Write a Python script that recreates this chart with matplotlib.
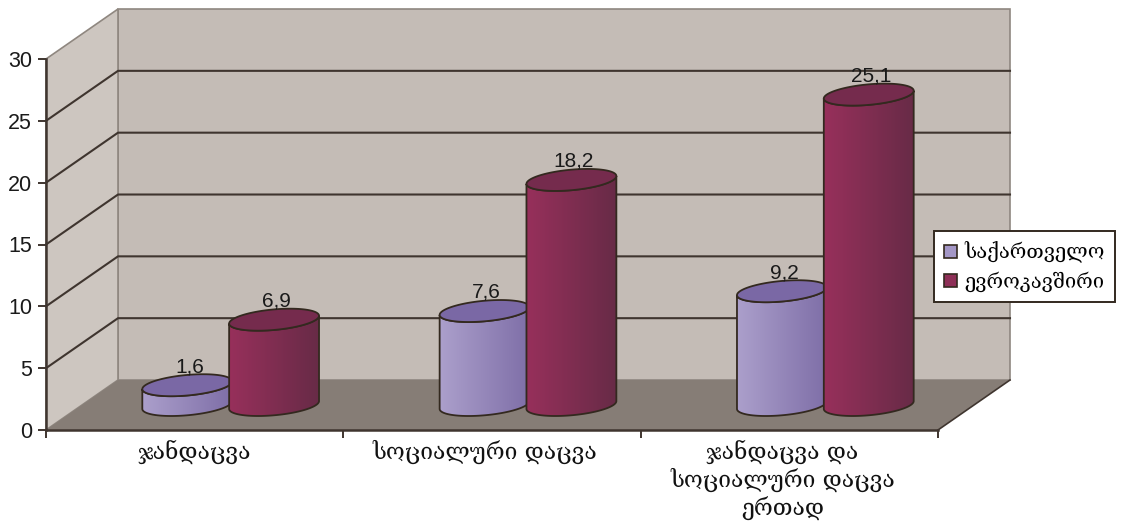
import numpy as np
import matplotlib
matplotlib.use("Agg")
import matplotlib.pyplot as plt
from matplotlib.colors import LinearSegmentedColormap
from matplotlib.patches import Patch, Polygon
from matplotlib.transforms import ScaledTranslation

categories = ["ჯანდაცვა", "სოციალური დაცვა", "ჯანდაცვა და\nსოციალური დაცვა\nერთად"]
georgia = [1.6, 7.6, 9.2]
eu = [6.9, 18.2, 25.1]
series_names = ["საქართველო", "ევროკავშირი"]
y_ticks = [0, 5, 10, 15, 20, 25, 30]

W, H = 1123, 521
# front plane of the box in pixels
X0, X1, Y0, Y30 = 46, 938, 430, 59
DEPTH_X = 72 / 297.33
DEPTH_Y = 50 / 12.37

DARK = "#33291f"
LINE = "#3f352f"
EDGE = "#8f8780"
GEO_FONT = ["DejaVu Serif", "DejaVu Sans"]
NUM_FONT = "Liberation Sans"


def draw_cylinder(ax, cx, value, light, dark, top_color, z):
    # ellipse half axes, data units
    a = 42 / 297.33
    d = 16 / 297.33
    e = 11 / 12.37
    base_y = DEPTH_Y / 2
    t0 = np.arctan2(d, a)
    t = np.linspace(t0 + np.pi, t0 + 2 * np.pi, 60)
    xs = cx + a * np.cos(t) + d * np.sin(t)
    low = e * np.sin(t)
    outline = np.vstack([
        np.column_stack([xs, base_y + low]),
        np.column_stack([xs[::-1], base_y + value + low[::-1]]),
    ])
    side = Polygon(outline, closed=True, facecolor="none", edgecolor=DARK,
                   lw=1.3, zorder=z + 0.2, clip_on=False)
    ax.add_patch(side)
    cmap = LinearSegmentedColormap.from_list("side", [light, dark])
    grad = ax.imshow(np.linspace(0, 1, 64).reshape(1, -1), cmap=cmap, aspect="auto",
                     extent=(xs.min(), xs.max(), base_y - e, base_y + value + e),
                     zorder=z + 0.1)
    grad.set_clip_path(side)

    tt = np.linspace(0, 2 * np.pi, 120)
    top = np.column_stack([cx + a * np.cos(tt) + d * np.sin(tt),
                           base_y + value + e * np.sin(tt)])
    ax.add_patch(Polygon(top, closed=True, facecolor=top_color, edgecolor=DARK,
                         lw=1.3, zorder=z + 0.3, clip_on=False))
    ax.text(cx + 0.007, base_y + value + e - 0.15, f"{value}".replace(".", ","),
            ha="center", va="bottom", fontsize=15, family=NUM_FONT,
            color="#1a1a1a", zorder=z + 0.4)


def main():
    fig = plt.figure(figsize=(W / 100, H / 100), dpi=100, facecolor="white")
    ax = fig.add_axes([X0 / W, 1 - Y0 / H, (X1 - X0) / W, (Y0 - Y30) / H])
    ax.patch.set_visible(False)
    n = len(categories)

    # walls and floor
    ax.add_patch(Polygon([(DEPTH_X, DEPTH_Y), (n + DEPTH_X, DEPTH_Y),
                          (n + DEPTH_X, 30 + DEPTH_Y), (DEPTH_X, 30 + DEPTH_Y)],
                         facecolor="#c4bcb6", edgecolor=EDGE, lw=1.2, clip_on=False, zorder=1))
    ax.add_patch(Polygon([(0, 0), (DEPTH_X, DEPTH_Y), (DEPTH_X, 30 + DEPTH_Y), (0, 30)],
                         facecolor="#cdc6c0", edgecolor=EDGE, lw=1.2, clip_on=False, zorder=1))
    ax.add_patch(Polygon([(0, 0), (n, 0), (n + DEPTH_X, DEPTH_Y), (DEPTH_X, DEPTH_Y)],
                         facecolor="#867d76", edgecolor="none", clip_on=False, zorder=1))
    ax.plot([n, n + DEPTH_X], [0, DEPTH_Y], color=LINE, lw=1.2, clip_on=False, zorder=2)

    for v in y_ticks[1:-1]:
        ax.plot([0, DEPTH_X, n + DEPTH_X], [v, v + DEPTH_Y, v + DEPTH_Y],
                color=LINE, lw=1.5, clip_on=False, zorder=2)

    centers = np.arange(n) + 0.5 + DEPTH_X / 2
    for i in range(n):
        z = 3 + i
        draw_cylinder(ax, centers[i] - 0.146, georgia[i], "#ab9fcb", "#7f6fa8", "#7a68a5", z)
        draw_cylinder(ax, centers[i] + 0.146, eu[i], "#97305b", "#682b47", "#752b4d", z + 0.5)

    ax.set_xlim(0, n)
    ax.set_ylim(0, 30)
    for s in ["top", "right"]:
        ax.spines[s].set_visible(False)
    for s in ["left", "bottom"]:
        ax.spines[s].set_color(LINE)
        ax.spines[s].set_linewidth(1.8)
        ax.spines[s].set_zorder(9)

    ax.set_yticks(y_ticks)
    ax.tick_params(axis="y", length=6, width=1.4, color=LINE, pad=4, labelsize=15.5, labelcolor="#1a1a1a")
    for lab in ax.get_yticklabels():
        lab.set_family(NUM_FONT)

    ax.set_xticks(np.arange(n + 1))
    ax.set_xticklabels([])
    ax.tick_params(axis="x", length=6, width=1.4, color=LINE)
    ax.set_xticks(np.arange(n) + 0.5, minor=True)
    labels = ax.set_xticklabels(categories, minor=True, family=GEO_FONT, fontsize=16.5,
                                linespacing=1.22, color="#111111")
    ax.tick_params(axis="x", which="minor", length=0, pad=7)
    # the two longer labels sit a little left of centre
    shift = ScaledTranslation(-7 / 100, 0, fig.dpi_scale_trans)
    for lab in labels[1:]:
        lab.set_transform(lab.get_transform() + shift)

    handles = [Patch(facecolor="#a497c6", edgecolor=DARK, lw=1.2),
               Patch(facecolor="#8e2f57", edgecolor=DARK, lw=1.2)]
    leg = ax.legend(handles, series_names, loc="center left",
                    bbox_to_anchor=(934 / W, 1 - 266.5 / H), bbox_transform=fig.transFigure,
                    prop={"family": GEO_FONT, "size": 14.5}, frameon=True, fancybox=False,
                    framealpha=1, edgecolor=DARK, facecolor="white", borderaxespad=0,
                    handlelength=0.62, handleheight=0.62, handletextpad=0.4,
                    labelspacing=0.4, borderpad=0.5)
    leg.get_frame().set_linewidth(1.4)
    leg.set_zorder(20)

    fig.savefig("out.png", dpi=100)
    plt.close(fig)


if __name__ == '__main__':
    main()
